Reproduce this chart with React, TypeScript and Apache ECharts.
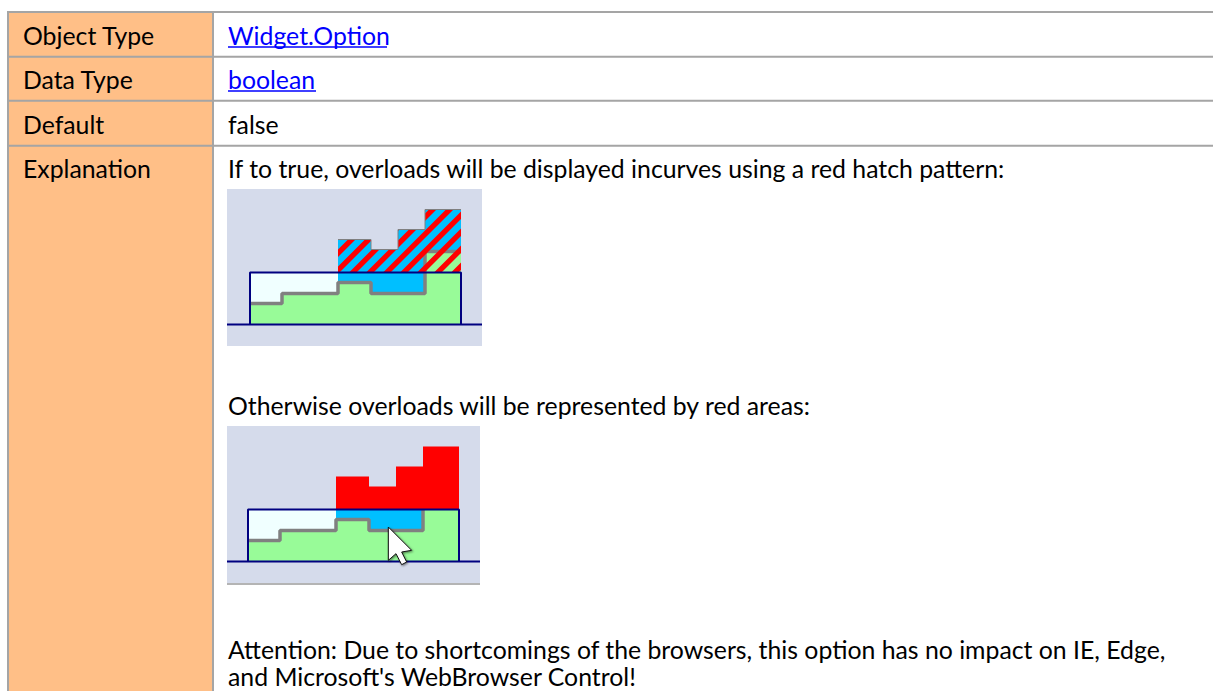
import React, { useEffect, useRef } from "react";
import * as echarts from "echarts";

const W = 1213;
const H = 691;
const FONT = "Lato";

// Table content
const rowLabels = ["Object Type", "Data Type", "Default", "Explanation"];
const rowValues = ["Widget.Option", "boolean", "false", "If to true, overloads will be displayed incurves using a red hatch pattern:"];
const textHatchCaption = "Otherwise overloads will be represented by red areas:";
const textAttention1 = "Attention: Due to shortcomings of the browsers, this option has no impact on IE, Edge,";
const textAttention2 = "and Microsoft's WebBrowser Control!";

// Mini chart data: x = time units, y = load units above the baseline
const timeEdges = [0, 32, 88, 121, 148, 175, 211];
const loadLevels = [21, 31, 42, 31, 31, 73];
const totalLevels = [0, 0, 85, 75, 95, 115];
const capacity = 52;
const overloadStart = 2;

const stepPts = (levels: number[], from = 0): number[][] => {
  const pts: number[][] = [];
  for (let i = from; i < levels.length; i++) pts.push([timeEdges[i], levels[i]]);
  pts.push([timeEdges[timeEdges.length - 1], levels[levels.length - 1]]);
  return pts;
};

const clampCap = (levels: number[]) => levels.map((v) => Math.min(v, capacity));

function hatchPattern() {
  const c = document.createElement("canvas");
  const p = 17;
  c.width = p;
  c.height = p;
  const g = c.getContext("2d")!;
  const a = 0.56 * p;
  g.fillStyle = "#ff0000";
  g.beginPath();
  g.moveTo(0, a);
  g.lineTo(a, 0);
  g.lineTo(p, 0);
  g.lineTo(0, p);
  g.closePath();
  g.fill();
  g.beginPath();
  g.moveTo(p, a);
  g.lineTo(p, p);
  g.lineTo(a, p);
  g.closePath();
  g.fill();
  return { image: c, repeat: "repeat" as const };
}

function buildSeries(gridIndex: number, hatched: boolean, xStart: number, zBase: number) {
  const base = { type: "line", xAxisIndex: gridIndex, yAxisIndex: gridIndex, showSymbol: false, silent: true, step: "end" };
  const navy = { color: "#000080", width: 2 };
  const areaOnly = { width: 0, color: "transparent" };
  const gray = "#808080";
  const last = timeEdges[timeEdges.length - 1];
  return [
    // free capacity, pale
    { ...base, z: zBase + 1, data: [[0, capacity], [timeEdges[overloadStart], capacity]], lineStyle: areaOnly, areaStyle: { color: "#F0FFFF", opacity: 1, origin: 0 } },
    // demand beneath the capacity line
    { ...base, z: zBase + 2, data: stepPts(clampCap(totalLevels), overloadStart), lineStyle: areaOnly, areaStyle: { color: "#00BFFF", opacity: 1, origin: 0 } },
    // demand above the capacity line, bare for the hatched variant
    hatched
      ? { ...base, z: zBase + 3, data: stepPts(totalLevels, overloadStart), lineStyle: areaOnly, areaStyle: { color: "#00BFFF", opacity: 1, origin: capacity } }
      : null,
    // green load
    { ...base, z: zBase + 4, data: stepPts(loadLevels), lineStyle: { color: gray, width: 3.5 }, areaStyle: { color: "#98FB98", opacity: 1, origin: 0 } },
    // overload
    hatched
      ? { ...base, z: zBase + 5, data: stepPts(totalLevels, overloadStart), lineStyle: { color: gray, width: 1 }, areaStyle: { color: hatchPattern(), opacity: 1, origin: capacity } }
      : { ...base, z: zBase + 5, data: stepPts(totalLevels, overloadStart), lineStyle: areaOnly, areaStyle: { color: "#FF0000", opacity: 1, origin: capacity } },
    // capacity box
    { ...base, z: zBase + 6, step: false, data: [[0, 0], [0, capacity], [last, capacity], [last, 0]], lineStyle: navy },
    // baseline
    { ...base, z: zBase + 6, step: false, data: [[xStart, 0], [232, 0]], lineStyle: navy },
  ].filter(Boolean);
}

function textEl(x: number, y: number, text: string, fill = "#000000") {
  return { type: "text", x, y, silent: true, style: { text, fill, font: `24.8px ${FONT}`, textVerticalAlign: "middle" } };
}

function tableGraphics() {
  const border = "#A5A5A5";
  const lineW = 2;
  const rows = [12, 56.7, 100.7, 145.7];
  const els: any[] = [
    { type: "rect", silent: true, shape: { x: 8, y: 12, width: 204, height: H - 12 }, style: { fill: "#FFBF87" } },
  ];
  rows.forEach((y) => {
    els.push({ type: "line", silent: true, shape: { x1: 7, y1: y, x2: W, y2: y }, style: { stroke: border, lineWidth: lineW } });
  });
  els.push({ type: "line", silent: true, shape: { x1: 8, y1: 11, x2: 8, y2: H }, style: { stroke: border, lineWidth: lineW } });
  els.push({ type: "line", silent: true, shape: { x1: 213, y1: 11, x2: 213, y2: H }, style: { stroke: border, lineWidth: lineW } });
  const ys = [35, 79, 124, 168];
  rowLabels.forEach((t, i) => els.push(textEl(23, ys[i], t)));
  rowValues.forEach((t, i) => els.push(textEl(228, ys[i], t, i < 2 ? "#0000FF" : "#000000")));
  els.push({ type: "line", silent: true, shape: { x1: 228, y1: 47, x2: 387, y2: 47 }, style: { stroke: "#0000FF", lineWidth: 1.5 } });
  els.push({ type: "line", silent: true, shape: { x1: 228, y1: 91, x2: 316, y2: 91 }, style: { stroke: "#0000FF", lineWidth: 1.5 } });
  els.push(textEl(228, 405, textHatchCaption));
  els.push(textEl(228, 649, textAttention1));
  els.push(textEl(228, 676, textAttention2));
  els.push({ type: "line", silent: true, shape: { x1: 227, y1: 584, x2: 480, y2: 584 }, style: { stroke: "#B4B4B4", lineWidth: 2 } });
  return els;
}

function cursorGraphic() {
  const pts = [[505, 315], [505, 415], [528, 395], [545, 428], [560, 420], [545, 390], [575, 385]];
  return {
    type: "polygon",
    silent: true,
    shape: { points: pts.map(([x, y]) => [220 + x / 3, 422 + y / 3]) },
    style: { fill: "#FFFFFF", stroke: "#111111", lineWidth: 1, shadowBlur: 2, shadowColor: "rgba(0,0,0,0.5)", shadowOffsetX: 1, shadowOffsetY: 1 },
    z: 100,
  };
}

export default function App() {
  const ref = useRef<HTMLDivElement>(null);
  useEffect(() => {
    document.body.style.margin = "0";
    const chart = echarts.init(ref.current!, undefined, { renderer: "svg" });
    const axisOff = { type: "value", show: false, scale: false };
    chart.setOption({
      animation: false,
      backgroundColor: "#FFFFFF",
      grid: [
        { left: 227, top: 189, width: 255, height: 157, show: true, backgroundColor: "#D5DBEB", borderWidth: 0, z: 2 },
        { left: 227, top: 426, width: 253, height: 157, show: true, backgroundColor: "#D5DBEB", borderWidth: 0, z: 2 },
      ],
      xAxis: [
        { ...axisOff, gridIndex: 0, min: -23, max: 232 },
        { ...axisOff, gridIndex: 1, min: -21, max: 232 },
      ],
      yAxis: [
        { ...axisOff, gridIndex: 0, min: -21.5, max: 135.5 },
        { ...axisOff, gridIndex: 1, min: -21.5, max: 135.5 },
      ],
      series: [...buildSeries(0, true, -23, 10), ...buildSeries(1, false, -21, 20)],
      graphic: [{ type: "group", z: 0, silent: true, children: tableGraphics() }, cursorGraphic()],
    });
    return () => chart.dispose();
  }, []);
  return <div ref={ref} style={{ width: W, height: H }} />;
}
